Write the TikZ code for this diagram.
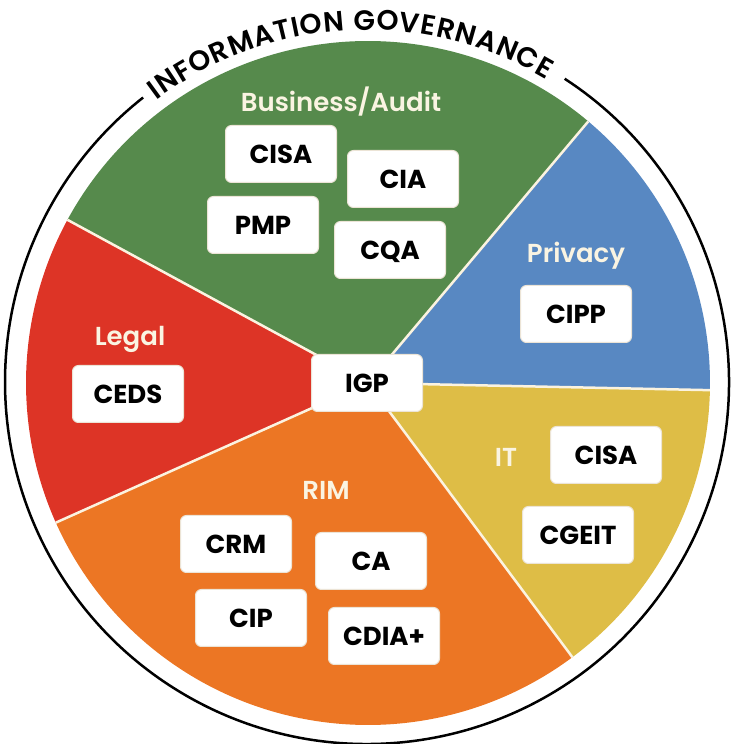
\documentclass[tikz,border=0pt]{standalone}
\usepackage{fontspec}
\setmainfont{Poppins}
\newfontfamily\certfont{Poppins}[UprightFont=* Bold]
\newfontfamily\catfont{Poppins SemiBold}
\newfontfamily\arcfont{Poppins SemiBold}
\usetikzlibrary{decorations.text}
\definecolor{cgreen}{RGB}{86,138,76}
\definecolor{cred}{RGB}{221,52,38}
\definecolor{corange}{RGB}{236,118,36}
\definecolor{cyellow}{RGB}{222,189,70}
\definecolor{cblue}{RGB}{88,136,194}
\definecolor{csep}{RGB}{251,243,224}
\definecolor{ccat}{RGB}{250,244,226}
\definecolor{cedge}{RGB}{236,228,214}
\tikzset{
  cert/.style={draw=cedge, line width=1pt, fill=white, rounded corners=6pt,
    minimum width=111pt, minimum height=57pt, inner sep=0pt,
    text height=18.5pt, text depth=0pt,
    font=\certfont\fontsize{26}{26}\selectfont},
  cat/.style={text=ccat, anchor=base, inner sep=0pt,
    font=\catfont\fontsize{26}{26}\selectfont},
  sep/.style={draw=csep, line width=2.5pt},
}
\begin{document}
\begin{tikzpicture}[x=1pt,y=1pt]
\useasboundingbox (0,0) rectangle (731,744);
\coordinate (P) at (368,361);
\coordinate (O) at (367,362);
% pie slices
\fill[cgreen]  (P) -- ++(49.9:342pt)  arc[start angle=49.9,  end angle=151.5, radius=342pt] -- cycle;
\fill[cred]    (P) -- ++(151.5:342pt) arc[start angle=151.5, end angle=204.1, radius=342pt] -- cycle;
\fill[corange] (P) -- ++(204.1:342pt) arc[start angle=204.1, end angle=306.7, radius=342pt] -- cycle;
\fill[cyellow] (P) -- ++(306.7:342pt) arc[start angle=306.7, end angle=358.8, radius=342pt] -- cycle;
\fill[cblue]   (P) -- ++(358.8:342pt) arc[start angle=358.8, end angle=409.9, radius=342pt] -- cycle;
% separators
\foreach \a in {49.9,151.5,204.1,306.7,358.8}
  \draw[sep] (P) -- ++(\a:342pt);
% outer ring with gap for the title
\draw[black, line width=2.5pt] (O) ++(56.9:362pt) arc[start angle=56.9, end angle=-231.8, radius=362pt];
\path[decorate, decoration={text along path,
   text={|\arcfont\fontsize{28}{28}\selectfont|INFORMATION GOVERNANCE},
   text align={fit to path}}]
   (O) ++(126.8:352pt) arc[start angle=126.8, end angle=59.3, radius=352pt];
% category labels
\node[cat] (lbiz) at (341,632) {Business/Audit};
\node[cat] (lpriv) at (576,481) {Privacy};
\node[cat] (llegal) at (130,398) {Legal};
\node[cat] (lit) at (506,277) {IT};
\node[cat] (lrim) at (326,244) {RIM};
% certification boxes
\node[cert] (igp) at (367,361) {IGP};
\node[cert] (cisaA) at (281,590) {CISA};
\node[cert] (cia) at (403,565) {CIA};
\node[cert] (pmp) at (263,519) {PMP};
\node[cert] (cqa) at (390,494) {CQA};
\node[cert] (cipp) at (576,430) {CIPP};
\node[cert] (ceds) at (128,350) {CEDS};
\node[cert] (cisaB) at (606,289) {CISA};
\node[cert] (cgeit) at (578,209) {CGEIT};
\node[cert] (crm) at (236,200) {CRM};
\node[cert] (ca) at (371,183) {CA};
\node[cert] (cip) at (251,126) {CIP};
\node[cert] (cdia) at (384,108) {CDIA+};
\end{tikzpicture}
\end{document}
